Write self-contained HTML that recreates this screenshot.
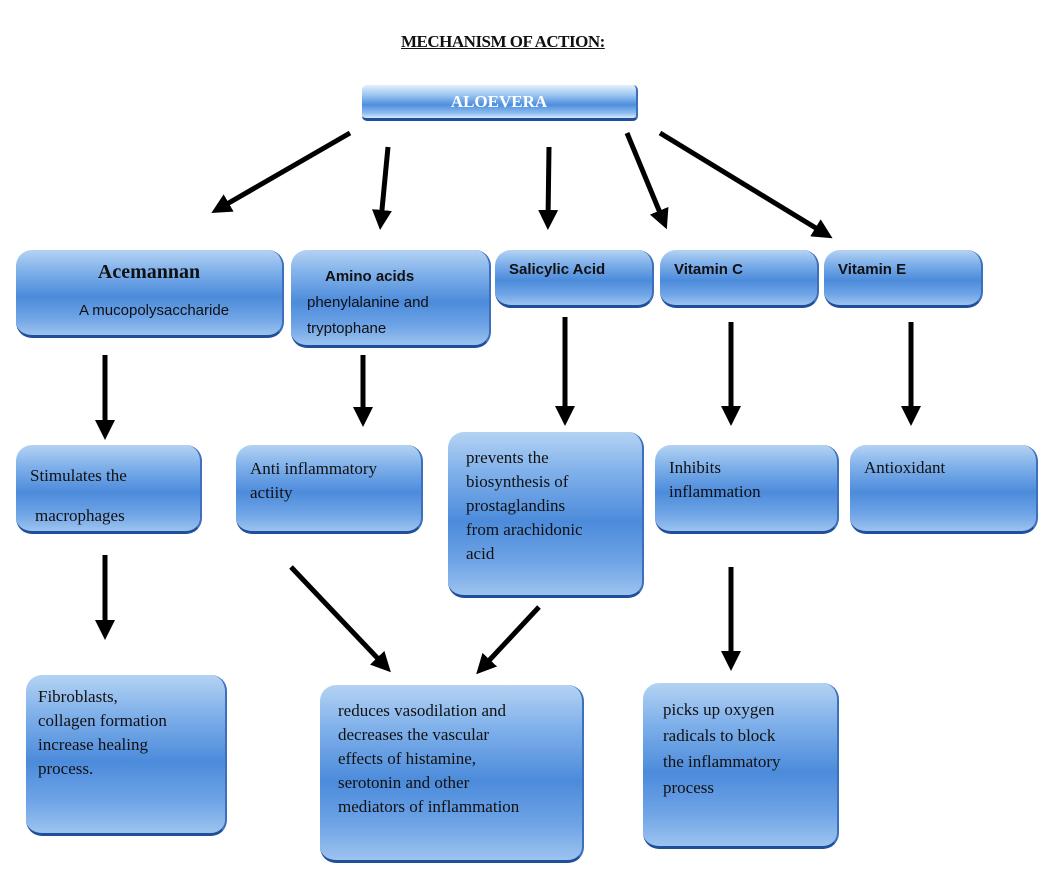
<!DOCTYPE html>
<html><head><meta charset="utf-8"><style>
body{margin:0;width:1057px;height:879px;background:#fff;position:relative;overflow:hidden;font-family:"Liberation Serif",serif;color:#111}
.b{position:absolute;box-sizing:border-box;border-radius:16px;background:linear-gradient(180deg,#b4d3f3 0%,#7fb0ea 25%,#4c8bdb 55%,#6fa4e6 80%,#9cc3ef 100%);border-bottom:3px solid #1f4f9a;border-right:2px solid #3d6fbf;font-size:17px;line-height:24px;padding:8px 14px}
svg{position:absolute;left:0;top:0}
</style></head><body>
<div style="position:absolute;left:401px;top:32px;font-size:17px;font-weight:bold;text-decoration:underline;letter-spacing:-0.5px">MECHANISM OF ACTION:</div>
<div class="b" style="left:362px;top:85px;width:276px;height:36px;border-radius:5px;padding:5px;text-align:center;color:#fff;font-weight:bold;background:linear-gradient(180deg,#e4f0fc 0%,#9cc6f2 30%,#4f8ede 60%,#8cbcef 85%,#d6e8fb 100%)">ALOEVERA</div>

<div class="b" style="left:16px;top:250px;width:268px;height:88px;text-align:center;padding-top:10px"><b style="font-size:20px">Acemannan</b><div style="font-family:'Liberation Sans',sans-serif;font-size:15px;margin-top:14px;margin-left:10px">A mucopolysaccharide</div></div>
<div class="b" style="left:291px;top:250px;width:200px;height:98px;padding:14px 14px 0 16px;line-height:26px;font-family:'Liberation Sans',sans-serif;font-size:15px"><span style="margin-left:18px;font-weight:bold">Amino acids</span><br>phenylalanine and<br>tryptophane</div>
<div class="b" style="left:495px;top:250px;width:159px;height:58px;font-family:'Liberation Sans',sans-serif;font-size:15px;font-weight:bold;padding-top:8px">Salicylic Acid</div>
<div class="b" style="left:660px;top:250px;width:159px;height:58px;font-family:'Liberation Sans',sans-serif;font-size:15px;font-weight:bold;padding-top:8px">Vitamin C</div>
<div class="b" style="left:824px;top:250px;width:159px;height:58px;font-family:'Liberation Sans',sans-serif;font-size:15px;font-weight:bold;padding-top:8px">Vitamin E</div>

<div class="b" style="left:16px;top:445px;width:186px;height:89px;padding-top:11px;line-height:40px">Stimulates the<br><span style="margin-left:5px">macrophages</span></div>
<div class="b" style="left:236px;top:445px;width:187px;height:89px;padding-top:12px">Anti inflammatory<br>actiity</div>
<div class="b" style="left:448px;top:432px;width:196px;height:166px;padding:14px 18px">prevents the<br>biosynthesis of<br>prostaglandins<br>from arachidonic<br>acid</div>
<div class="b" style="left:655px;top:445px;width:184px;height:89px;padding-top:11px">Inhibits<br>inflammation</div>
<div class="b" style="left:850px;top:445px;width:188px;height:89px;padding-top:11px">Antioxidant</div>

<div class="b" style="left:26px;top:675px;width:201px;height:161px;padding:10px 12px">Fibroblasts,<br>collagen formation<br>increase healing<br>process.</div>
<div class="b" style="left:320px;top:685px;width:264px;height:178px;padding:14px 18px">reduces vasodilation and<br>decreases the vascular<br>effects of histamine,<br>serotonin and other<br>mediators of inflammation</div>
<div class="b" style="left:643px;top:683px;width:196px;height:166px;padding:14px 20px;line-height:26px">picks up oxygen<br>radicals to block<br>the inflammatory<br>process</div>

<svg width="1057" height="879">
<defs><marker id="a" markerWidth="4" markerHeight="4" refX="2" refY="2" orient="auto"><path d="M0,0 L4,2 L0,4 z" fill="#000"/></marker></defs>
<g stroke="#000" stroke-width="5" marker-end="url(#a)">
<line x1="350" y1="133" x2="220" y2="208"/>
<line x1="388" y1="147" x2="381" y2="220"/>
<line x1="549" y1="147" x2="548" y2="220"/>
<line x1="627" y1="133" x2="663" y2="220"/>
<line x1="660" y1="133" x2="824" y2="233"/>
<line x1="105" y1="355" x2="105" y2="430"/>
<line x1="363" y1="355" x2="363" y2="417"/>
<line x1="565" y1="317" x2="565" y2="416"/>
<line x1="731" y1="322" x2="731" y2="416"/>
<line x1="911" y1="322" x2="911" y2="416"/>
<line x1="105" y1="555" x2="105" y2="630"/>
<line x1="291" y1="567" x2="384" y2="665"/>
<line x1="539" y1="607" x2="483" y2="667"/>
<line x1="731" y1="567" x2="731" y2="661"/>
</g></svg>
</body></html>
